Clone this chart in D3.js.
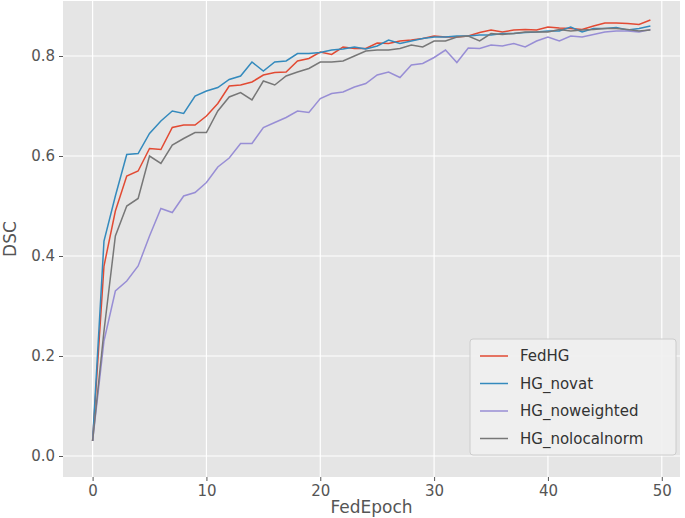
<!DOCTYPE html><html><head><meta charset="utf-8"><script src="https://cdn.jsdelivr.net/npm/d3@7"></script>
<style>body{margin:0;background:#fff}text{font-family:"DejaVu Sans",sans-serif}</style></head><body><svg id="c" width="685" height="518"></svg>
<script>
const epochs = d3.range(50);
const fedHG = [0.03,0.38,0.49,0.56,0.57,0.615,0.613,0.657,0.662,0.662,0.68,0.705,0.74,0.742,0.748,0.762,0.767,0.768,0.79,0.795,0.808,0.803,0.818,0.815,0.815,0.826,0.825,0.83,0.832,0.835,0.84,0.838,0.838,0.84,0.847,0.852,0.848,0.852,0.853,0.852,0.858,0.856,0.855,0.853,0.86,0.866,0.866,0.865,0.863,0.872];
const hgNovat = [0.03,0.43,0.52,0.603,0.605,0.645,0.67,0.69,0.685,0.72,0.73,0.737,0.753,0.76,0.788,0.77,0.788,0.79,0.805,0.805,0.807,0.812,0.814,0.818,0.814,0.82,0.832,0.825,0.83,0.835,0.838,0.838,0.84,0.84,0.842,0.842,0.845,0.845,0.847,0.848,0.85,0.85,0.858,0.848,0.855,0.855,0.857,0.852,0.855,0.86];
const hgNoweighted = [0.03,0.23,0.33,0.35,0.38,0.44,0.495,0.487,0.52,0.527,0.547,0.578,0.596,0.625,0.625,0.657,0.667,0.677,0.69,0.687,0.715,0.725,0.728,0.738,0.745,0.762,0.768,0.757,0.782,0.785,0.797,0.812,0.787,0.816,0.815,0.822,0.82,0.825,0.818,0.83,0.838,0.83,0.84,0.838,0.843,0.848,0.85,0.85,0.848,0.853];
const hgNolocalnorm = [0.03,0.25,0.44,0.5,0.515,0.6,0.585,0.622,0.635,0.647,0.647,0.69,0.718,0.727,0.712,0.75,0.742,0.76,0.768,0.775,0.788,0.788,0.79,0.8,0.81,0.812,0.812,0.815,0.822,0.818,0.83,0.83,0.838,0.84,0.83,0.845,0.843,0.845,0.848,0.848,0.848,0.853,0.85,0.852,0.853,0.855,0.855,0.853,0.85,0.852];
const seriesNames = ["FedHG","HG_novat","HG_noweighted","HG_nolocalnorm"];
const seriesValues = [fedHG,hgNovat,hgNoweighted,hgNolocalnorm];
const colors = ["#E24A33","#348ABD","#988ED5","#777777"];
const xTicks = [0,10,20,30,40,50];
const yTicks = [0.0,0.2,0.4,0.6,0.8];

const svg = d3.select("#c");
const L=63,R=680,T=1,B=477;
const x = d3.scaleLinear().domain([-2.6,51.6]).range([L,R]);
const y = d3.scaleLinear().domain([-0.042,0.91]).range([B,T]);
svg.append("rect").attr("x",L).attr("y",T).attr("width",R-L).attr("height",B-T).attr("fill","#E5E5E5");
const g = svg.append("g");
xTicks.forEach(t=>g.append("line").attr("x1",x(t)).attr("x2",x(t)).attr("y1",T).attr("y2",B).attr("stroke","#fff").attr("stroke-width",1.2));
yTicks.forEach(t=>g.append("line").attr("y1",y(t)).attr("y2",y(t)).attr("x1",L).attr("x2",R).attr("stroke","#fff").attr("stroke-width",1.2));
const xa = svg.append("g").attr("transform",`translate(0,${B})`).call(d3.axisBottom(x).tickValues(xTicks).tickSize(4).tickPadding(4));
const ya = svg.append("g").attr("transform",`translate(${L},0)`).call(d3.axisLeft(y).tickValues(yTicks).tickFormat(d3.format(".1f")).tickSize(4).tickPadding(4));
[xa,ya].forEach(a=>{a.select(".domain").remove();a.selectAll("line").attr("stroke","#555");a.selectAll("text").attr("fill","#555").style("font-size","15px").style("font-family","DejaVu Sans");});
const line = d3.line().x((d,i)=>x(epochs[i])).y(d=>y(d));
seriesValues.forEach((s,i)=>svg.append("path").attr("d",line(s)).attr("fill","none").attr("stroke",colors[i]).attr("stroke-width",1.5));
svg.append("text").attr("x",(L+R)/2).attr("y",513).attr("text-anchor","middle").attr("fill","#555").style("font-size","17px").text("FedEpoch");
svg.append("text").attr("transform",`translate(16,${(T+B)/2}) rotate(-90)`).attr("text-anchor","middle").attr("fill","#555").style("font-size","17px").text("DSC");
const lg = svg.append("g").attr("transform","translate(470,339)");
lg.append("rect").attr("width",206).attr("height",116).attr("rx",3).attr("fill","#F0F0F0").attr("fill-opacity",0.9).attr("stroke","#ccc");
seriesNames.forEach((n,i)=>{
  const yy=17+i*27.5;
  lg.append("line").attr("x1",10).attr("x2",38).attr("y1",yy).attr("y2",yy).attr("stroke",colors[i]).attr("stroke-width",1.5);
  lg.append("text").attr("x",50).attr("y",yy+5).attr("fill","#333").style("font-size","15px").text(n);
});
</script></body></html>
